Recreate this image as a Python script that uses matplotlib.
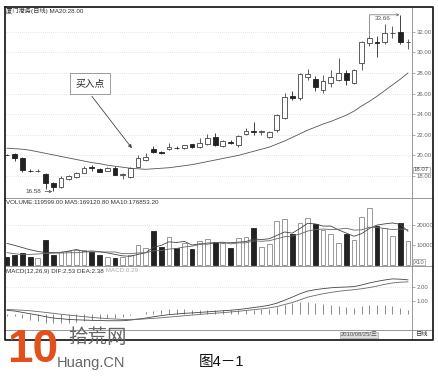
import numpy as np
import matplotlib.pyplot as plt

plt.rcParams['font.family'] = ['Liberation Sans', 'Noto Sans CJK SC', 'DejaVu Sans']

# Daily candles
opens = [20.07, 20.14, 19.75, 18.52, 18.48, 18.2, 17.3, 16.93, 17.7, 17.9,
         18.3, 18.82, 18.7, 18.5, 18.8, 18.1, 17.9, 18.9, 19.55, 20.6,
         20.32, 20.6, 20.72, 20.7, 21.1, 20.8, 21.1, 21.8, 20.9, 21.35,
         21.0, 22.1, 22.35, 22.28, 21.8, 22.5, 23.6, 25.75, 25.6, 27.6,
         27.4, 26.4, 27.0, 27.3, 28.0, 27.0, 29.0, 30.9, 31.05, 31.0,
         31.88, 32.0, 31.0]
closes = [20.03, 19.75, 18.58, 18.48, 18.52, 17.3, 16.95, 17.8, 18.0, 18.3,
          18.8, 18.78, 18.4, 18.8, 18.1, 18.15, 18.8, 19.75, 19.85, 20.35,
          20.28, 20.8, 20.68, 21.0, 20.8, 21.2, 21.7, 21.0, 21.4, 21.25,
          21.9, 22.4, 22.25, 22.32, 22.3, 23.9, 25.7, 25.6, 27.9, 27.9,
          26.6, 27.2, 27.6, 28.0, 27.3, 28.3, 31.0, 31.4, 30.95, 31.9,
          31.92, 31.0, 31.05]
highs = [20.1, 20.2, 19.8, 18.7, 18.7, 18.3, 17.4, 18.0, 18.1, 18.35,
         19.0, 19.1, 18.8, 18.9, 19.0, 18.3, 18.85, 20.05, 20.2, 20.9,
         20.4, 21.2, 20.9, 21.05, 21.15, 21.7, 22.1, 22.2, 21.5, 21.45,
         21.95, 22.7, 23.2, 22.5, 22.4, 24.0, 26.1, 26.3, 28.0, 28.4,
         27.7, 27.8, 28.3, 29.5, 28.3, 28.4, 31.1, 31.6, 31.6, 32.8,
         32.6, 33.66, 31.3]
lows = [20.0, 19.5, 18.4, 18.4, 18.4, 16.75, 16.58, 16.85, 17.65, 17.85,
        18.25, 18.5, 18.35, 18.45, 18.05, 17.7, 17.85, 18.85, 19.5, 20.2,
        20.1, 20.55, 20.6, 20.65, 20.75, 20.75, 21.05, 20.95, 20.85, 21.1,
        20.8, 22.0, 22.0, 22.0, 21.7, 22.3, 23.5, 25.4, 25.4, 27.3,
        26.3, 26.1, 26.6, 27.2, 26.8, 26.9, 28.3, 30.6, 29.6, 30.8,
        31.4, 30.8, 30.3]
ma20 = [20.7, 20.65, 20.6, 20.5, 20.35, 20.2, 20.05, 19.9, 19.75, 19.6,
        19.45, 19.3, 19.2, 19.05, 18.95, 18.85, 18.75, 18.7, 18.65, 18.7,
        18.75, 18.8, 18.9, 19.0, 19.1, 19.25, 19.4, 19.55, 19.7, 19.85,
        20.0, 20.2, 20.4, 20.6, 20.8, 21.1, 21.4, 21.75, 22.1, 22.45,
        22.75, 23.05, 23.3, 23.6, 23.9, 24.3, 24.8, 25.25, 25.75, 26.3,
        26.85, 27.4, 28.0]

# Volume in units of 10 shares
vol = [4150, 5000, 5830, 4150, 3500, 12500, 5000, 6650, 7150, 7500,
       7500, 6300, 5000, 4000, 3650, 4000, 5000, 10000, 8300, 17000,
       8800, 13800, 8300, 11150, 7800, 12150, 12800, 11650, 10800, 8300,
       13650, 14150, 18300, 9150, 10350, 22000, 22800, 15350, 20800, 23350,
       20350, 17500, 15350, 11200, 15350, 12500, 24000, 28350, 19650, 18350,
       14650, 20800, 12000]
vol_ma5 = [10800, 9800, 8700, 7600, 6800, 6200, 6200, 6360, 6960, 7760,
           6760, 7020, 6690, 6060, 5290, 4590, 4330, 5330, 6190, 8860,
           9820, 11580, 11240, 11810, 9970, 10640, 10440, 11110, 11040, 11140,
           11440, 11710, 13040, 12710, 13120, 14790, 16520, 15930, 18260, 20860,
           20530, 19470, 19470, 17550, 15950, 14380, 15680, 18280, 19970, 20570,
           21000, 20360, 16912]
vol_ma10 = [6200, 5600, 5200, 5300, 5500, 5800, 5900, 6000, 6100, 6143,
            6478, 6608, 6525, 6510, 6525, 5675, 5675, 6010, 6125, 7075,
            7205, 7955, 8285, 9000, 9415, 10230, 11010, 11175, 11425, 10555,
            11040, 11075, 12075, 11875, 12130, 13115, 14115, 14485, 15485, 16990,
            17660, 17995, 17700, 17905, 18405, 17455, 17575, 18875, 18760, 18260,
            17695, 18010, 17685]

# MACD(12,26,9)
dif = [0.27, 0.22, 0.12, 0.02, -0.08, -0.2, -0.3, -0.35, -0.4, -0.43,
       -0.45, -0.47, -0.48, -0.5, -0.5, -0.5, -0.45, -0.38, -0.3, -0.2,
       -0.12, -0.05, 0.0, 0.05, 0.08, 0.12, 0.16, 0.2, 0.24, 0.28,
       0.33, 0.4, 0.48, 0.55, 0.65, 0.8, 1.02, 1.25, 1.5, 1.7,
       1.8, 1.88, 1.94, 1.98, 2.0, 2.03, 2.15, 2.3, 2.42, 2.52,
       2.6, 2.58, 2.53]
dea = [0.33, 0.31, 0.28, 0.24, 0.18, 0.12, 0.05, -0.02, -0.08, -0.14,
       -0.2, -0.25, -0.3, -0.34, -0.37, -0.4, -0.4, -0.39, -0.36, -0.32,
       -0.28, -0.23, -0.18, -0.13, -0.08, -0.03, 0.02, 0.06, 0.1, 0.15,
       0.2, 0.26, 0.32, 0.38, 0.45, 0.55, 0.7, 0.85, 1.05, 1.25,
       1.38, 1.5, 1.6, 1.68, 1.75, 1.8, 1.87, 1.96, 2.07, 2.2,
       2.3, 2.36, 2.38]
macd = [-0.12, -0.18, -0.32, -0.44, -0.52, -0.64, -0.7, -0.66, -0.64, -0.58,
        -0.5, -0.44, -0.36, -0.32, -0.26, -0.2, -0.1, 0.02, 0.12, 0.24,
        0.32, 0.36, 0.36, 0.36, 0.32, 0.3, 0.28, 0.28, 0.28, 0.26,
        0.26, 0.28, 0.32, 0.34, 0.4, 0.5, 0.64, 0.8, 0.9, 0.9,
        0.84, 0.76, 0.68, 0.6, 0.5, 0.46, 0.56, 0.68, 0.7, 0.64,
        0.6, 0.44, 0.29]

price_ticks = [18, 20, 22, 24, 26, 28, 30, 32]
vol_ticks = [10000, 20000]
macd_ticks = [1, 2]
low_idx = 6      # 16.58
high_idx = 51    # 33.66
buy_idx = 17

W, H = 438, 377
fig = plt.figure(figsize=(W / 100, H / 100), dpi=100)


def px_box(x0, y0, x1, y1):
    return [x0 / W, 1 - y1 / H, (x1 - x0) / W, (y1 - y0) / H]


def fig_line(xs, ys, **kw):
    fig.add_artist(plt.Line2D([x / W for x in xs], [1 - y / H for y in ys],
                              transform=fig.transFigure, **kw))


n = len(opens)
idx = np.arange(n)
o = np.array(opens)
c = np.array(closes)
up = c >= o
face = ['white' if u else '#222222' for u in up]
edge = ['#444444' if u else '#222222' for u in up]
vedge = ['#888888' if u else '#222222' for u in up]

ax_p = fig.add_axes(px_box(5, 7, 412, 198))
ax_v = fig.add_axes(px_box(5, 198, 412, 266))
ax_m = fig.add_axes(px_box(5, 266, 412, 330))

for ax in (ax_p, ax_v, ax_m):
    ax.set_xlim(-0.26, 52.53)
    ax.set_xticks([])
    for s in ax.spines.values():
        s.set_visible(False)
    ax.yaxis.tick_right()
    ax.tick_params(axis='y', length=2, width=0.5, color='#888888',
                   labelcolor='#666666', labelsize=4.3, pad=1.5)
    ax.set_facecolor('none')

# Price panel
lo_b = np.minimum(o, c)
hi_b = np.maximum(o, c)
ax_p.vlines(idx, lows, highs, colors=edge, lw=0.6, zorder=2)
ax_p.bar(idx, np.maximum(hi_b - lo_b, 0.05), bottom=lo_b, width=0.62,
         color=face, edgecolor=edge, linewidth=0.6, zorder=3)
ax_p.plot(idx, ma20, color='#555555', lw=0.6)
ax_p.set_ylim(15.86, 34.42)
ax_p.set_yticks(price_ticks)
ax_p.set_yticklabels(['%.2f' % t for t in price_ticks])
ax_p.grid(axis='y', ls=(0, (1, 2)), color='#cccccc', lw=0.5)

ax_p.annotate('%.2f' % lows[low_idx], xy=(low_idx - 0.15, lows[low_idx] - 0.1),
              xytext=(low_idx - 1.5, lows[low_idx] - 0.1),
              ha='right', va='center', fontsize=4.5, color='#444444',
              arrowprops=dict(arrowstyle='->', color='#444444', lw=0.5,
                              shrinkA=0.5, shrinkB=0, mutation_scale=4))
ax_p.plot([high_idx - 4, high_idx - 4], [highs[high_idx - 4], highs[high_idx]],
          color='#666666', lw=0.5)
ax_p.annotate('', xy=(high_idx - 0.1, highs[high_idx]),
              xytext=(high_idx - 4, highs[high_idx]),
              arrowprops=dict(arrowstyle='->', color='#666666', lw=0.5,
                              shrinkA=0, shrinkB=0, mutation_scale=4))
ax_p.text(high_idx - 2.3, highs[high_idx] - 0.35, '%.2f' % highs[high_idx],
          ha='center', va='center', fontsize=4.5, color='#555555')

ax_p.text(10.8, 27.0, '买入点', ha='center', va='center', fontsize=7,
          color='#222222',
          bbox=dict(boxstyle='square,pad=0.55', fc='white', ec='#777777', lw=0.5))
ax_p.annotate('', xy=(buy_idx - 0.8, highs[buy_idx] + 0.65), xytext=(11.0, 25.75),
              arrowprops=dict(arrowstyle='-|>', color='#444444', lw=0.6,
                              shrinkA=0, shrinkB=0, mutation_scale=5))

# Volume panel
ax_v.bar(idx, vol, width=0.62, color=face, edgecolor=vedge, linewidth=0.6)
ax_v.plot(idx, vol_ma5, color='#444444', lw=0.6)
ax_v.plot(idx, vol_ma10, color='#666666', lw=0.6)
ax_v.set_ylim(-500, 33500)
ax_v.set_yticks(vol_ticks)
ax_v.set_yticklabels([str(t) for t in vol_ticks])
ax_v.axhline(20000, ls=(0, (1, 2)), color='#cccccc', lw=0.5, zorder=0)

# MACD panel
ax_m.vlines(idx, 0, macd, colors='#777777', lw=0.6)
ax_m.plot(idx, dif, color='#444444', lw=0.6)
ax_m.plot(idx, dea, color='#666666', lw=0.6)
ax_m.set_ylim(-1.185, 3.556)
ax_m.set_yticks(macd_ticks)
ax_m.set_yticklabels(['%.2f' % t for t in macd_ticks])
ax_m.grid(axis='y', ls=(0, (1, 2)), color='#cccccc', lw=0.5)

# Frame and separators
fig_line([412, 412], [7, 340], color='#888888', lw=0.6)
for yy in (198, 266, 330):
    fig_line([5, 433], [yy, yy], color='#888888', lw=0.6)
fig_line([5, 433, 433, 5, 5], [7, 7, 340, 340, 7], color='#222222', lw=1.3)

# Panel titles
fig.text(6 / W, 1 - 11 / H, '厦门港务(日线) MA20:28.00', fontsize=4.5,
         color='#333333', va='center')
fig.text(6 / W, 1 - 203 / H, 'VOLUME:119599.00 MA5:169120.80 MA10:176853.20',
         fontsize=4.5, color='#333333', va='center')
t1 = fig.text(6 / W, 1 - 271 / H, 'MACD(12,26,9) DIF:2.53 DEA:2.38',
              fontsize=4.5, color='#333333', va='center')
fig.text(0, 0, '')
ax_m.annotate(' MACD:0.29', xy=(1, 0.5), xycoords=t1, va='center',
              fontsize=4.5, color='#aaaaaa')

# Right strip labels
fig.text(414 / W, 1 - 170 / H, '18.07', fontsize=4.3, color='#444444', va='center',
         bbox=dict(boxstyle='square,pad=0.1', fc='white', ec='#888888', lw=0.4))
fig.text(414 / W, 1 - 262 / H, 'X10', fontsize=4.3, color='#666666', va='center',
         bbox=dict(boxstyle='square,pad=0.1', fc='white', ec='#888888', lw=0.4))

# Date strip
fig.text(359 / W, 1 - 335 / H, '2010/08/25/三', fontsize=4.2, color='#555555',
         ha='center', va='center',
         bbox=dict(boxstyle='square,pad=0.15', fc='#dddddd', ec='#999999', lw=0.4))
fig.text(422 / W, 1 - 335 / H, '日线', fontsize=4.5, color='#333333',
         ha='center', va='center')

# Watermark and caption
fig.text(7 / W, 1 - 372 / H, '10', fontsize=33, fontweight='bold',
         color='#e2501c', va='bottom')
fig.text(68 / W, 1 - 338 / H, '拾荒网', fontsize=14, color='#666666', va='center')
fig.text(57 / W, 1 - 363 / H, 'Huang.CN', fontsize=10.5, color='#666666', va='center')
fig.text(222 / W, 1 - 362 / H, '图4－1', fontsize=10.5, color='#111111',
         ha='center', va='center')

fig.savefig('out.png', dpi=100)
